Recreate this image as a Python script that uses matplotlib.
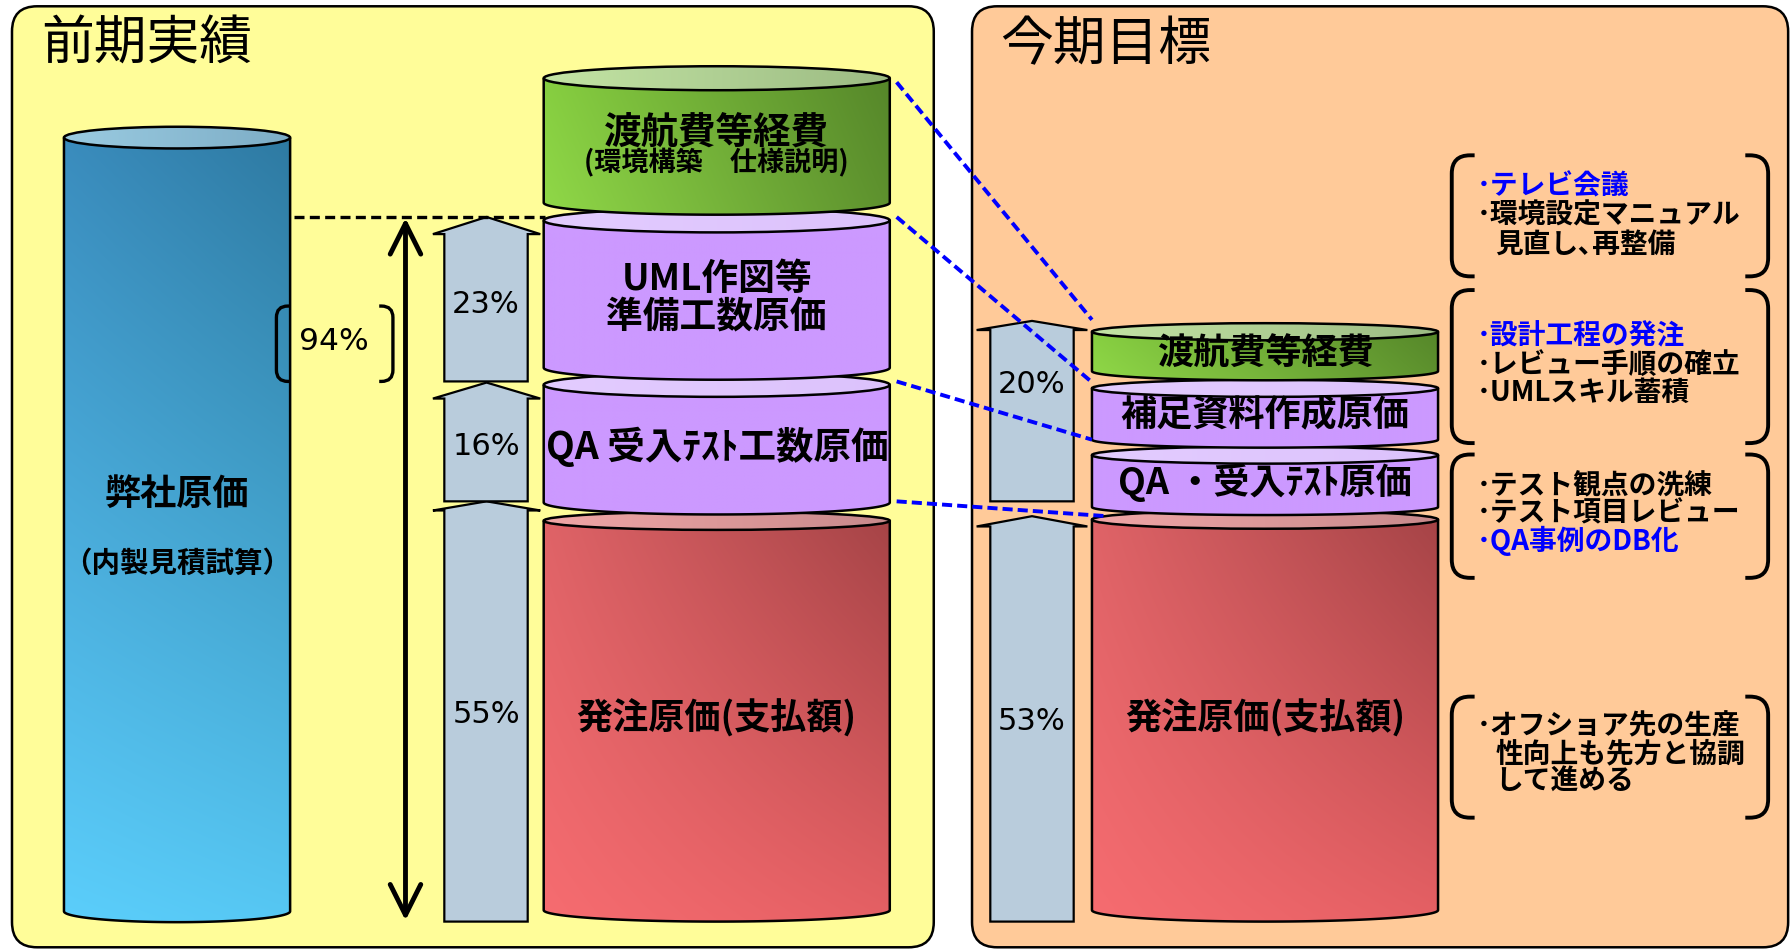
import numpy as np
import matplotlib
matplotlib.use('Agg')
import matplotlib.pyplot as plt
from matplotlib.patches import FancyBboxPatch, Ellipse, PathPatch, Polygon, FancyArrowPatch
from matplotlib.path import Path
from matplotlib.colors import to_rgb

plt.rcParams['font.family'] = ['Noto Sans CJK JP', 'DejaVu Sans']

# ---------------- data ----------------
panel_titles = ['前期実績', '今期目標']
base_label = '弊社原価'
base_sub = '（内製見積試算）'
total_pct = '94%'
prev_labels = ['発注原価(支払額)', 'QA 受入ﾃｽﾄ工数原価', 'UML作図等\n準備工数原価', '渡航費等経費']
prev_sub = '(環境構築　仕様説明)'
prev_pcts = [55, 16, 23]
target_labels = ['発注原価(支払額)', 'QA ・受入ﾃｽﾄ原価', '補足資料作成原価', '渡航費等経費']
target_pcts = [53, 20]
note_texts = [
    ['･テレビ会議', '･環境設定マニュアル', '見直し､再整備'],
    ['･設計工程の発注', '･レビュー手順の確立', '･UMLスキル蓄積'],
    ['･テスト観点の洗練', '･テスト項目レビュー', '･QA事例のDB化'],
    ['･オフショア先の生産', '性向上も先方と協調', 'して進める'],
]
note_highlight = [
    [True, False, False],
    [True, False, False],
    [False, False, True],
    [False, False, False],
]

# ---------------- layout (canvas units) ----------------
W, H = 1568, 831
fig = plt.figure(figsize=(17.91, 9.49), dpi=100)
ax = fig.add_axes([0, 0, 1, 1])
ax.set_xlim(0, W)
ax.set_ylim(H, 0)
ax.axis('off')


def rgb(h):
    return np.array(to_rgb(h))


def gradient(clip_patch, extent, tl, tr, bl, br, z):
    n = 90
    t = np.linspace(0, 1, n)
    u = t[None, :, None]
    v = t[:, None, None]
    top = (1 - u) * rgb(tl) + u * rgb(tr)
    bot = (1 - u) * rgb(bl) + u * rgb(br)
    img = (1 - v) * top + v * bot
    im = ax.imshow(img, extent=extent, origin='upper', aspect='auto',
                   zorder=z, interpolation='bilinear')
    im.set_clip_path(clip_patch)


def cylinder(x0, x1, yt, yb, hht, hhb, side, topc, z, lw=1.8):
    cx = (x0 + x1) / 2
    a = (x1 - x0) / 2
    th = np.linspace(np.pi, 0, 80)
    ax_ = cx + a * np.cos(th)
    ay_ = yb + hhb * np.sin(th)
    verts = [(x0, yt)] + list(zip(ax_, ay_)) + [(x1, yt), (x0, yt)]
    patch = PathPatch(Path(verts), fc='none', ec='none', zorder=z)
    ax.add_patch(patch)
    gradient(patch, (x0, x1, yb + hhb, yt), *side, z)
    ax.plot([x0] + list(ax_) + [x1], [yt] + list(ay_) + [yt], color='k',
            lw=lw, zorder=z + 0.2, solid_capstyle='butt')
    e = Ellipse((cx, yt), 2 * a, 2 * hht, fc='none', ec='none', zorder=z + 0.3)
    ax.add_patch(e)
    gradient(e, (x0, x1, yt + hht, yt - hht), topc[0], topc[1], topc[0], topc[1], z + 0.3)
    ax.add_patch(Ellipse((cx, yt), 2 * a, 2 * hht, fc='none', ec='k', lw=lw, zorder=z + 0.4))


def block_arrow(x0, x1, hx0, hx1, yb, ys, yt, z=5):
    tipx = (hx0 + hx1) / 2
    pts = [(x0, yb), (x0, ys), (hx0, ys), (tipx, yt), (hx1, ys), (x1, ys), (x1, yb)]
    ax.add_patch(Polygon(pts, closed=True, fc='#B9CCDC', ec='k', lw=1.6,
                         joinstyle='miter', zorder=z))


def bracket(x0, x1, y0, y1, r=16, hook=4, lw=2.8, z=6):
    for side in (0, 1):
        if side == 0:
            xe, d = x0, 1
        else:
            xe, d = x1, -1
        verts = [(xe + d * (r + hook), y0), (xe + d * r, y0), (xe, y0), (xe, y0 + r),
                 (xe, y1 - r), (xe, y1), (xe + d * r, y1), (xe + d * (r + hook), y1)]
        codes = [Path.MOVETO, Path.LINETO, Path.CURVE3, Path.CURVE3,
                 Path.LINETO, Path.CURVE3, Path.CURVE3, Path.LINETO]
        ax.add_patch(PathPatch(Path(verts, codes), fc='none', ec='k', lw=lw,
                               capstyle='butt', zorder=z))


# panels
ax.add_patch(FancyBboxPatch((10.5, 5.5), 807, 824, boxstyle='round,pad=0,rounding_size=22',
                            fc='#FFFD99', ec='k', lw=1.8, zorder=1))
ax.add_patch(FancyBboxPatch((851, 5.5), 714.5, 824, boxstyle='round,pad=0,rounding_size=22',
                            fc='#FFCA99', ec='k', lw=1.8, zorder=1))
ax.text(36, 39, panel_titles[0], fontsize=38, ha='left', va='center', zorder=20)
ax.text(876, 39, panel_titles[1], fontsize=38, ha='left', va='center', zorder=20)

# base (blue) cylinder
cylinder(56, 254, 120.5, 798, 9.5, 9.5,
         ('#3A8CBD', '#2E7AA2', '#5BCEFB', '#56C7F3'), ('#9ACBE1', '#7DADC6'), 3)
ax.text(155, 433, base_label, fontsize=26, fontweight='bold', ha='center', va='center', zorder=20)
ax.text(155, 494, base_sub, fontsize=20.5, fontweight='bold', ha='center', va='center', zorder=20)

# colour schemes
RED = (('#DF6367', '#A64447', '#F66C70', '#E56064'), ('#F0A6A6', '#C88A8C'))
PURP = (('#CC99FF', '#CC99FF', '#CC99FF', '#CC99FF'), ('#E3CCFF', '#DCC2FC'))
GRN = (('#86CE40', '#56872A', '#90D848', '#5E922E'), ('#C3E4A4', '#9CBB83'))

# previous-period stack (bottom to top)
LX0, LX1 = 476, 779
prev_geo = [(456, 797, 8, 10), (337, 440, 10.5, 10.5), (193, 322, 10.5, 10.5), (68.5, 177.5, 10.5, 10.5)]
for i, ((yt, yb, ht, hb), sch) in enumerate(zip(prev_geo, [RED, PURP, PURP, GRN])):
    cylinder(LX0, LX1, yt, yb, ht, hb, sch[0], sch[1], 8 + i)

cx_l = (LX0 + LX1) / 2
ax.text(cx_l, 629, prev_labels[0], fontsize=26, fontweight='bold', ha='center', va='center', zorder=20)
ax.text(cx_l + 0.5, 391, prev_labels[1], fontsize=27, fontweight='bold', ha='center', va='center', zorder=20)
ax.text(cx_l, 261, prev_labels[2], fontsize=26.5, fontweight='bold', ha='center', va='center',
        linespacing=1.02, zorder=20)
ax.text(cx_l, 115.5, prev_labels[3], fontsize=27, fontweight='bold', ha='center', va='center', zorder=20)
ax.text(cx_l, 143, prev_sub, fontsize=19.5, fontweight='bold', ha='center', va='center', zorder=20)

# target stack
RX0, RX1 = 956, 1259
targ_geo = [(455, 797, 8, 10), (398.5, 444, 7.5, 7), (340, 385, 7.5, 7), (290.5, 325, 7.5, 8)]
for i, ((yt, yb, ht, hb), sch) in enumerate(zip(targ_geo, [RED, PURP, PURP, GRN])):
    cylinder(RX0, RX1, yt, yb, ht, hb, sch[0], sch[1], 8 + i)
cx_r = (RX0 + RX1) / 2
for lab, y in zip(target_labels, [629, 422.5, 363, 310]):
    ax.text(cx_r, y, lab, fontsize=26, fontweight='bold', ha='center', va='center', zorder=20)

# block arrows with percentages
prev_arrow_geo = [(807, 447, 439), (439, 349, 335), (334, 205, 190)]
for (yb, ys, yt), p, ylab in zip(prev_arrow_geo, prev_pcts, [626, 391, 267]):
    block_arrow(389, 462, 379, 473, yb, ys, yt)
    ax.text(425.5, ylab, f'{p}%', fontsize=22, ha='center', va='center',
            family='DejaVu Sans', zorder=20)
targ_arrow_geo = [(807, 461, 452), (439, 289, 281)]
for (yb, ys, yt), p, ylab in zip(targ_arrow_geo, target_pcts, [632, 337]):
    block_arrow(867, 940, 855, 952, yb, ys, yt)
    ax.text(903.5, ylab, f'{p}%', fontsize=22, ha='center', va='center',
            family='DejaVu Sans', zorder=20)

# dashed total line and double arrow
ax.plot([257, 477], [190, 190], color='k', lw=2.4, dashes=(3, 1.6), zorder=7)
ax.add_patch(FancyArrowPatch((355, 191), (355, 806), arrowstyle='<->,head_length=1.1,head_width=0.55',
                             mutation_scale=20, color='k', lw=3.5, shrinkA=0, shrinkB=0, zorder=7))

# 94% bracket
bracket(242, 344, 268, 334, r=10, hook=2, lw=2.4)
ax.text(292, 299, total_pct, fontsize=22.5, ha='center', va='center', family='DejaVu Sans', zorder=20)

# blue connector lines
conn = [((785, 72), (956, 280)), ((785, 190), (954, 333)),
        ((785, 334), (956, 385)), ((785, 439), (969, 452))]
for (p0, p1) in conn:
    ax.plot([p0[0], p1[0]], [p0[1], p1[1]], color='#0000FF', lw=2.8,
            dashes=(2.6, 1.3), zorder=16)

# note brackets
note_boxes = [(136, 242), (254, 388), (398, 506), (610, 716)]
note_ys = [[163.5, 189, 214], [295, 320, 344], [426, 449.5, 474], [636, 661, 684]]
for (y0, y1), texts, hl, ys in zip(note_boxes, note_texts, note_highlight, note_ys):
    bracket(1271, 1548, y0, y1, r=16, hook=4, lw=2.8)
    for t, h, y in zip(texts, hl, ys):
        x = 1293 if t.startswith('･') else 1309
        ax.text(x, y, t, fontsize=20, fontweight='bold', ha='left', va='center',
                color='#0000FF' if h else 'k', zorder=20)

fig.savefig('out.png', dpi=100)
